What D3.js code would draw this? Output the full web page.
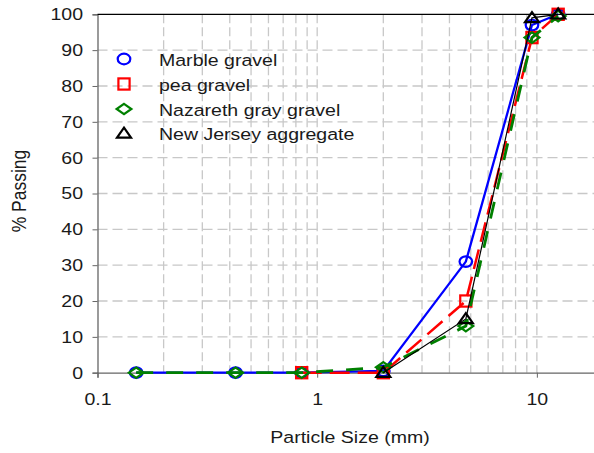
<!DOCTYPE html>
<html>
<head>
<meta charset="utf-8">
<script src="https://cdn.jsdelivr.net/npm/d3@7"></script>
<style>
  html, body { margin: 0; padding: 0; background: #fff; }
  svg { display: block; }
  text { font-family: "Liberation Sans", Arial, sans-serif; fill: #1a1a1a; }
</style>
</head>
<body>
<svg id="chart" width="594" height="453"></svg>
<script>
// Sieve sizes (mm) and percent passing for each material
const marbleSizes = [0.15, 0.425, 0.85, 2.0, 4.75, 9.5, 12.5];
const marbleValues = [0, 0, 0, 0.5, 31, 97, 100];

const peaSizes = [0.85, 2.0, 4.75, 9.5, 12.5];
const peaValues = [0, 0, 20, 93.5, 100];

const nazarethSizes = [0.15, 0.425, 0.85, 2.0, 4.75, 9.5, 12.5];
const nazarethValues = [0, 0, 0, 1.5, 13, 93.5, 99.5];

const njSizes = [2.0, 4.75, 9.5, 12.5];
const njValues = [0, 15, 99, 100];

const seriesNames = ["Marble gravel", "pea gravel", "Nazareth gray gravel", "New Jersey aggregate"];
const yTicks = [0, 10, 20, 30, 40, 50, 60, 70, 80, 90, 100];
const xTickLabels = [0.1, 1, 10];

const svg = d3.select("#chart");
const plotLeft = 97.5, plotTop = 14.3, plotBottom = 372.7;
const stretch = 1.15;   // glyphs are drawn slightly wide

const x = d3.scaleLog().domain([0.1, 20]).range([plotLeft, 603]);
const y = d3.scaleLinear().domain([0, 100]).range([plotBottom, plotTop]);

// grid
const minor = [];
for (const dec of [0.1, 1, 10]) for (let k = 1; k <= 9; k++) { const v = dec * k; if (v > 0.1 && v <= 20) minor.push(v); }
svg.append("g").selectAll("line").data(minor).join("line")
  .attr("x1", d => x(d)).attr("x2", d => x(d))
  .attr("y1", plotTop).attr("y2", plotBottom)
  .attr("stroke", "#c8c8c8").attr("stroke-width", 1.3)
  .attr("stroke-dasharray", "9,4");
svg.append("g").selectAll("line").data(yTicks.filter(t => t > 0 && t < 100)).join("line")
  .attr("x1", plotLeft).attr("x2", 594)
  .attr("y1", d => y(d)).attr("y2", d => y(d))
  .attr("stroke", "#c8c8c8").attr("stroke-width", 1.3)
  .attr("stroke-dasharray", "10,5");

// axes
const yAxis = svg.append("g").attr("transform", `translate(${plotLeft},0)`)
  .call(d3.axisLeft(y).tickValues(yTicks).tickSize(5).tickPadding(9).tickFormat(d3.format("d")));
yAxis.select(".domain").attr("stroke", "#666").attr("stroke-width", 1.3);
yAxis.selectAll(".tick line").attr("stroke", "#666");
yAxis.selectAll("text").attr("font-size", 17).attr("fill", "#1a1a1a")
  .attr("font-family", "Liberation Sans, Arial, sans-serif")
  .attr("x", 0).attr("transform", `translate(-14.5,0) scale(${stretch},1)`);

const xAxis = svg.append("g").attr("transform", `translate(0,${plotBottom})`)
  .call(d3.axisBottom(x).tickValues(xTickLabels).tickSize(5).tickPadding(15).tickFormat(d => String(d)));
xAxis.select(".domain").attr("stroke", "#666").attr("stroke-width", 1.3);
xAxis.selectAll(".tick line").attr("stroke", "#666");
xAxis.selectAll("text").attr("font-size", 17).attr("fill", "#1a1a1a")
  .attr("font-family", "Liberation Sans, Arial, sans-serif")
  .attr("transform", `scale(${stretch},1)`);

// top border
svg.append("line").attr("x1", plotLeft).attr("x2", 594).attr("y1", plotTop).attr("y2", plotTop)
  .attr("stroke", "#000").attr("stroke-width", 1.3);

// axis titles
svg.append("text").attr("transform", `translate(350,443) scale(${stretch},1)`)
  .attr("text-anchor", "middle").attr("font-size", 17).text("Particle Size (mm)");
svg.append("text").attr("transform", `translate(26,191) scale(${stretch},1) rotate(-90)`)
  .attr("text-anchor", "middle").attr("font-size", 17.5).text("% Passing");

// series
const series = [
  { name: seriesNames[0], xs: marbleSizes, ys: marbleValues, color: "#0000ff", width: 2.3, dash: null, shape: "circle" },
  { name: seriesNames[1], xs: peaSizes, ys: peaValues, color: "#ff0000", width: 2.5, dash: "20,8", shape: "square" },
  { name: seriesNames[2], xs: nazarethSizes, ys: nazarethValues, color: "#008000", width: 2.8, dash: "17,13", shape: "diamond" },
  { name: seriesNames[3], xs: njSizes, ys: njValues, color: "#000000", width: 1.2, dash: null, shape: "triangle" }
];

const line = d3.line().x(d => x(d[0])).y(d => y(d[1]));

function marker(g, shape, color) {
  if (shape === "circle") {
    g.append("ellipse").attr("rx", 6.3).attr("ry", 5.3);
  } else if (shape === "square") {
    g.append("rect").attr("x", -5.6).attr("y", -5.6).attr("width", 11.2).attr("height", 11.2);
  } else if (shape === "diamond") {
    g.append("path").attr("d", "M0,-5.2L7.4,0L0,5.2L-7.4,0Z");
  } else {
    g.append("path").attr("d", "M0,-5.8L7,4.2L-7,4.2Z");
  }
  g.selectAll("*").attr("fill", "none").attr("stroke", color).attr("stroke-width", 2.2);
}

series.forEach(s => {
  const pts = s.xs.map((v, i) => [v, s.ys[i]]);
  svg.append("path").datum(pts).attr("d", line)
    .attr("fill", "none").attr("stroke", s.color).attr("stroke-width", s.width)
    .attr("stroke-dasharray", s.dash);
  pts.forEach(p => {
    const g = svg.append("g").attr("transform", `translate(${x(p[0])},${y(p[1])})`);
    marker(g, s.shape, s.color);
  });
});

// legend
const legendRows = [59, 84, 109, 133.5];
series.forEach((s, i) => {
  const g = svg.append("g").attr("transform", `translate(124,${legendRows[i]})`);
  marker(g, s.shape, s.color);
  svg.append("text").attr("transform", `translate(159,${legendRows[i] + 6.5}) scale(${stretch},1)`)
    .attr("font-size", 17).text(s.name);
});
</script>
</body>
</html>
